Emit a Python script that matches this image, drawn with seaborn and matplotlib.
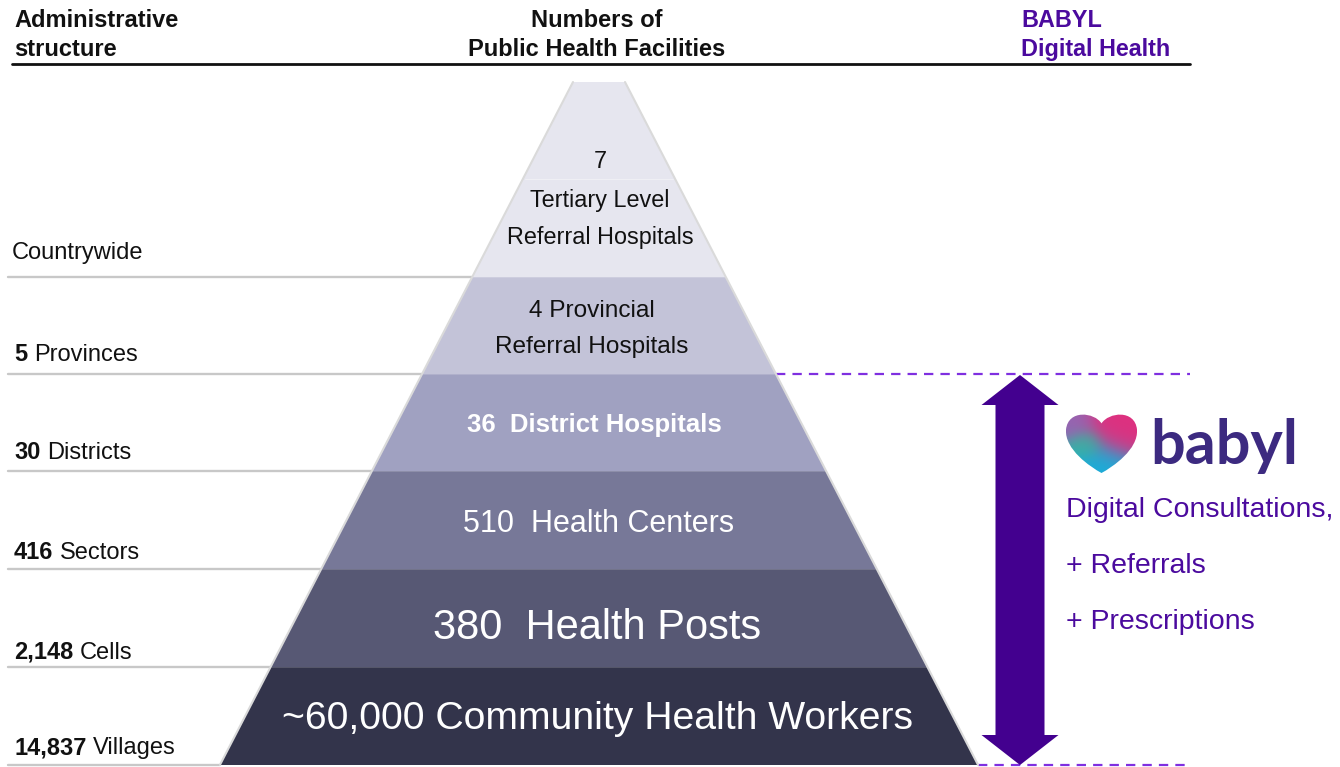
import numpy as np
import pandas as pd
import matplotlib
matplotlib.use("Agg")
import matplotlib.pyplot as plt
import seaborn as sns
from matplotlib.patches import Polygon, PathPatch
from matplotlib.path import Path

# ------------------------------------------------------------------ data
admin_numbers = ["", "5", "30", "416", "2,148", "14,837"]
admin_units = ["Countrywide", "Provinces", "Districts", "Sectors", "Cells", "Villages"]
facility_lines = [
    ["7", "Tertiary Level", "Referral Hospitals"],
    ["4 Provincial", "Referral Hospitals"],
    ["36  District Hospitals"],
    ["510  Health Centers"],
    ["380  Health Posts"],
    ["~60,000 Community Health Workers"],
]
header_left = ["Administrative", "structure"]
header_mid = ["Numbers of", "Public Health Facilities"]
header_right = ["BABYL", "Digital Health"]
brand_name = "babyl"
babyl_services = ["Digital Consultations,", "+ Referrals", "+ Prescriptions"]

# ------------------------------------------------------------------ style / layout
sns.set_theme(style="white")
plt.rcParams["font.family"] = ["Liberation Sans", "DejaVu Sans"]

W, H = 1340, 767
fig = plt.figure(figsize=(W / 100, H / 100), dpi=100)
ax = fig.add_axes([0, 0, 1, 1])
sns.despine(ax=ax, left=True, bottom=True)
ax.axis("off")

tier_colors = ["#e6e6ef", "#c3c3d8", "#a0a1c1", "#777898", "#575874", "#33344b"]
text_colors = ["#111111", "#111111", "white", "white", "white", "white"]
tier_edges = [82, 277, 374, 471, 569, 667, 765]
cx, top_half, slope = 599, 26, 0.517
tier_text_x = [600, 592, 594, 599, 597, 597]
tier_baselines = [[168, 207, 244], [317, 353], [432], [532], [639], [729]]
tier_sizes = [16.8, 17.6, 18.5, 22, 30, 28.2]
tier_weights = ["normal", "normal", "bold", "normal", "normal", "normal"]
purple_text = "#4b0a9e"


def half(y):
    return top_half + (y - tier_edges[0]) * slope


# pyramid tiers
for i in range(len(facility_lines)):
    y0, y1 = tier_edges[i], tier_edges[i + 1]
    poly = Polygon([(cx - half(y0), y0), (cx + half(y0), y0),
                    (cx + half(y1), y1), (cx - half(y1), y1)],
                   closed=True, facecolor=tier_colors[i], edgecolor="none", zorder=2)
    ax.add_patch(poly)
    for line, yb in zip(facility_lines[i], tier_baselines[i]):
        ax.text(tier_text_x[i], yb, line, ha="center", va="baseline",
                fontsize=tier_sizes[i], color=text_colors[i],
                fontweight=tier_weights[i], zorder=5)

# faint line inside top tier
ax.plot([cx - half(179) + 2, cx + half(179) - 2], [179, 179], color="#f0f0f5", lw=0.7, zorder=3)
# thin boundaries between tiers
for y in tier_edges[1:-1]:
    ax.plot([cx - half(y), cx + half(y)], [y, y], color="white", lw=0.6, alpha=0.2, zorder=3)

# pyramid side outlines
yt, yb_ = tier_edges[0], tier_edges[-1]
ax.plot([cx - half(yt), cx - half(yb_)], [yt, yb_], color="#dadada", lw=1.5, zorder=4)
ax.plot([cx + half(yt), cx + half(yb_)], [yt, yb_], color="#dadada", lw=1.5, zorder=4)

# left separators and admin labels
for y in tier_edges[1:]:
    ax.plot([8, cx - half(y)], [y, y], color="#c8c8c8", lw=1.7, zorder=1)

admin_baselines = [259, 361, 459, 559, 659, 754]
for num, unit, yb in zip(admin_numbers, admin_units, admin_baselines):
    if num:
        t = ax.text(14, yb, num, fontsize=17, fontweight="bold", color="#111111",
                    ha="left", va="baseline")
        ax.annotate(unit, xy=(1, 0), xycoords=t, xytext=(4.7, 0),
                    textcoords="offset points", fontsize=17, color="#111111",
                    ha="left", va="bottom")
    else:
        ax.text(12, yb, unit, fontsize=17, color="#111111", ha="left", va="baseline")

# header
for line, yb in zip(header_left, [27, 56]):
    ax.text(14, yb, line, fontsize=17, fontweight="bold", color="#111111", va="baseline")
for line, yb in zip(header_mid, [27, 56]):
    ax.text(597, yb, line, fontsize=17, fontweight="bold", color="#111111",
            ha="center", va="baseline")
for line, yb in zip(header_right, [27, 56]):
    ax.text(1021, yb, line, fontsize=16.8, fontweight="bold", color=purple_text,
            va="baseline")
ax.plot([12, 1190], [64, 64], color="#111111", lw=2.0)

# dashed purple guide lines
dash_col = "#7f2fe0"
ax.plot([cx + half(374), 1190], [374, 374], color=dash_col, lw=1.6,
        linestyle=(0, (4.2, 3.2)), zorder=3)
ax.plot([cx + half(765), 1190], [765, 765], color=dash_col, lw=1.6,
        linestyle=(0, (4.2, 3.2)), zorder=3)

# double-headed arrow
ac, tip_top, tip_bot = 1020, 375, 765
sh, hh, hl = 24.5, 38.5, 30
arrow_pts = [(ac, tip_top), (ac + hh, tip_top + hl), (ac + sh, tip_top + hl),
             (ac + sh, tip_bot - hl), (ac + hh, tip_bot - hl), (ac, tip_bot),
             (ac - hh, tip_bot - hl), (ac - sh, tip_bot - hl), (ac - sh, tip_top + hl),
             (ac - hh, tip_top + hl)]
ax.add_patch(Polygon(arrow_pts, closed=True, facecolor="#43008f", edgecolor="none", zorder=4))

# babyl heart logo (rounded heart built from cubic Beziers) with gradient fill
x0, x1, y0, y1 = 1066, 1137, 411, 473
unit = [(0.5, 0.20),
        (0.60, 0.02), (0.97, -0.03), (1.0, 0.30),
        (1.02, 0.62), (0.66, 0.90), (0.5, 1.0),
        (0.34, 0.90), (-0.02, 0.62), (0.0, 0.30),
        (0.03, -0.03), (0.40, 0.02), (0.5, 0.20)]
verts = [(x0 + u * (x1 - x0), y0 + v * (y1 - y0)) for u, v in unit]
codes = [Path.MOVETO] + [Path.CURVE4] * 12
heart = PathPatch(Path(verts, codes), facecolor="none", edgecolor="none")
ax.add_patch(heart)

gy, gx = np.mgrid[0:1:120j, 0:1:140j]
blobs = [((0.75, 0.25), 0.28, (0.87, 0.19, 0.50)),   # pink/magenta
         ((0.45, 0.95), 0.28, (0.10, 0.68, 0.85)),   # cyan
         ((0.25, 0.55), 0.14, (0.22, 0.72, 0.60)),   # green
         ((0.10, 0.20), 0.18, (0.58, 0.40, 0.70))]   # purple
num = np.zeros(gx.shape + (3,))
den = np.zeros(gx.shape)
for (bx, by), r, col in blobs:
    w = np.exp(-((gx - bx) ** 2 + (gy - by) ** 2) / (2 * r ** 2))
    num += w[..., None] * np.array(col)
    den += w
img = num / den[..., None]
im = ax.imshow(img, extent=(x0, x1, y1, y0), origin="upper", aspect="auto",
               interpolation="bilinear", zorder=5)
im.set_clip_path(heart)

ax.text(1150, 464, brand_name, fontsize=44, color="#3c2a80", family=["Lato", "DejaVu Sans"],
        fontweight="bold", ha="left", va="baseline", zorder=5)

for line, yb in zip(babyl_services, [517, 573, 629]):
    ax.text(1066, yb, line, fontsize=20.5, color=purple_text, ha="left", va="baseline")

ax.set_xlim(0, W)
ax.set_ylim(H, 0)
fig.savefig("out.png", dpi=100, facecolor="white")
